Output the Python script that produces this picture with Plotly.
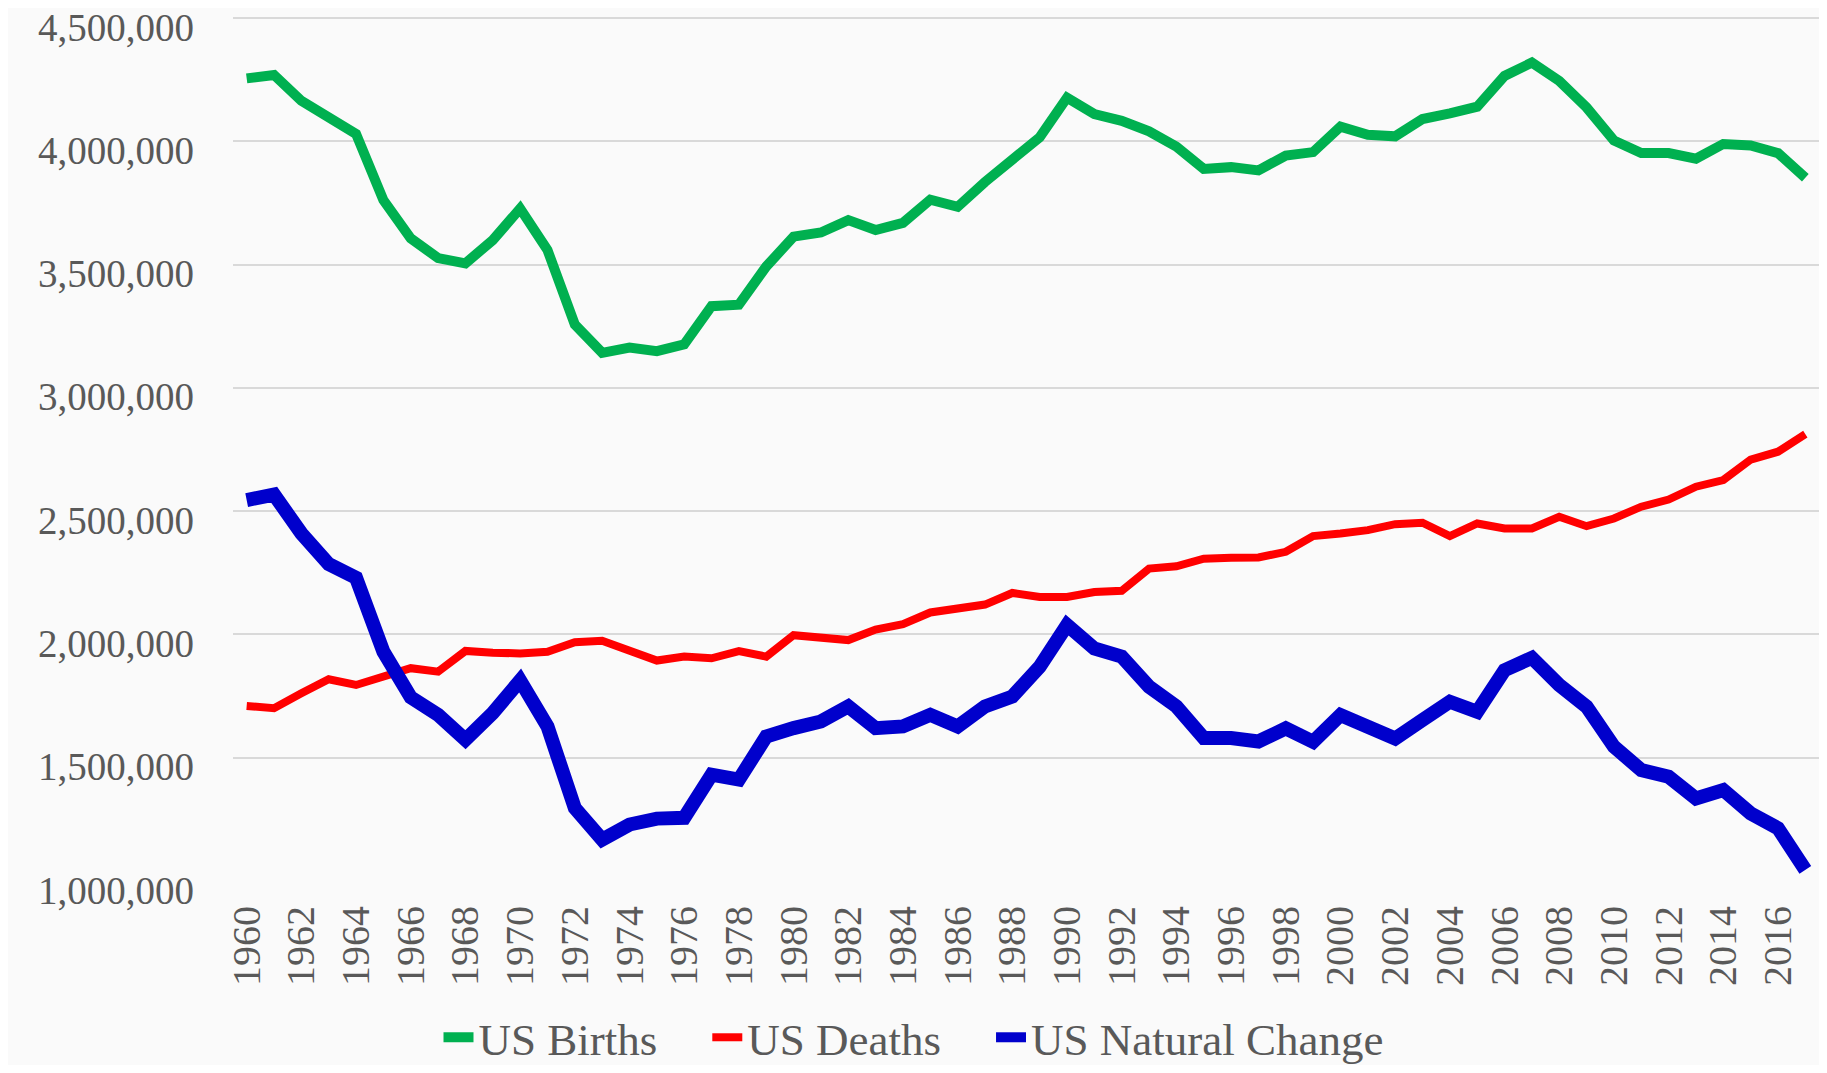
import plotly.graph_objects as go

years = [1960, 1961, 1962, 1963, 1964, 1965, 1966, 1967, 1968, 1969,
         1970, 1971, 1972, 1973, 1974, 1975, 1976, 1977, 1978, 1979,
         1980, 1981, 1982, 1983, 1984, 1985, 1986, 1987, 1988, 1989,
         1990, 1991, 1992, 1993, 1994, 1995, 1996, 1997, 1998, 1999,
         2000, 2001, 2002, 2003, 2004, 2005, 2006, 2007, 2008, 2009,
         2010, 2011, 2012, 2013, 2014, 2015, 2016, 2017]

births = [4255000, 4269000, 4164000, 4097000, 4030000, 3761000, 3606000, 3526000, 3505000, 3599000,
          3727000, 3559000, 3257000, 3142000, 3163000, 3149000, 3176000, 3331000, 3337000, 3492000,
          3613000, 3630000, 3680000, 3640000, 3669000, 3763000, 3734000, 3835000, 3925000, 4016000,
          4177000, 4110000, 4083000, 4040000, 3978000, 3888000, 3895000, 3882000, 3942000, 3956000,
          4059000, 4026000, 4020000, 4090000, 4113000, 4140000, 4265000, 4319000, 4245000, 4137000,
          4003000, 3952000, 3952000, 3929000, 3989000, 3983000, 3952000, 3852000]

deaths = [1710000, 1701000, 1761000, 1818000, 1795000, 1829000, 1863000, 1849000, 1933000, 1926000,
          1923000, 1930000, 1968000, 1974000, 1937000, 1894000, 1910000, 1903000, 1932000, 1910000,
          1997000, 1984000, 1977000, 2020000, 2042000, 2089000, 2105000, 2121000, 2168000, 2152000,
          2152000, 2172000, 2177000, 2267000, 2276000, 2307000, 2311000, 2312000, 2335000, 2399000,
          2409000, 2423000, 2447000, 2453000, 2399000, 2450000, 2430000, 2430000, 2477000, 2439000,
          2470000, 2518000, 2547000, 2599000, 2626000, 2709000, 2741000, 2812000]

natural_change = [2545000, 2567000, 2410000, 2285000, 2230000, 1930000, 1745000, 1674000, 1573000, 1681000,
                  1813000, 1627000, 1296000, 1168000, 1229000, 1253000, 1256000, 1431000, 1411000, 1586000,
                  1620000, 1647000, 1708000, 1620000, 1627000, 1674000, 1627000, 1708000, 1748000, 1869000,
                  2038000, 1943000, 1910000, 1788000, 1708000, 1580000, 1580000, 1566000, 1619000, 1565000,
                  1673000, 1619000, 1578000, 1653000, 1727000, 1686000, 1855000, 1905000, 1795000, 1707000,
                  1545000, 1450000, 1423000, 1335000, 1369000, 1274000, 1214000, 1045000]

tick_years = years[::2]
y_ticks = [1000000, 1500000, 2000000, 2500000, 3000000, 3500000, 4000000, 4500000]

FONT = "Liberation Serif"
TXT = "#595959"
GAP = "\u00a0" * 4  # spacing after each legend entry

x_cat = [str(y) for y in years]

fig = go.Figure()
fig.add_trace(go.Scatter(x=x_cat, y=births, mode="lines", name="US Births" + GAP,
                         line=dict(color="#00B050", width=10)))
fig.add_trace(go.Scatter(x=x_cat, y=deaths, mode="lines", name="US Deaths" + GAP,
                         line=dict(color="#FF0000", width=8)))
fig.add_trace(go.Scatter(x=x_cat, y=natural_change, mode="lines", name="US Natural Change",
                         line=dict(color="#0000CC", width=14)))

# page has an 8px body margin, so the figure is drawn 8px in from the top-left
fig.update_layout(
    width=1811, height=1057,
    margin=dict(l=225, r=0, t=7, b=184),
    paper_bgcolor="#fafafa", plot_bgcolor="#fafafa",
    font=dict(family=FONT, color=TXT),
    showlegend=True,
    legend=dict(orientation="h", xref="container", yref="container",
                x=0.5, xanchor="center", y=0.026, yanchor="middle",
                font=dict(family=FONT, size=45, color=TXT),
                bgcolor="rgba(0,0,0,0)"),
)
fig.update_xaxes(type="category", range=[-0.5, len(years) - 0.5],
                 tickmode="array", tickvals=[str(y) for y in tick_years],
                 ticktext=[str(y) for y in tick_years],
                 tickangle=-90, tickfont=dict(family=FONT, size=40, color=TXT),
                 showgrid=False, showline=False, zeroline=False, ticks="",
                 ticklabelstandoff=16, automargin=False, ticklabeloverflow="allow")
fig.update_yaxes(range=[1000000, 4512000], tickmode="array", tickvals=y_ticks,
                 tickformat=",d", tickfont=dict(family=FONT, size=39, color=TXT),
                 showgrid=True, gridcolor="#d9d9d9", gridwidth=2,
                 showline=False, zeroline=False, ticks="", ticklabelstandoff=38,
                 ticklabelshift=9,
                 automargin=False, ticklabeloverflow="allow")

fig.write_html("out.html")
